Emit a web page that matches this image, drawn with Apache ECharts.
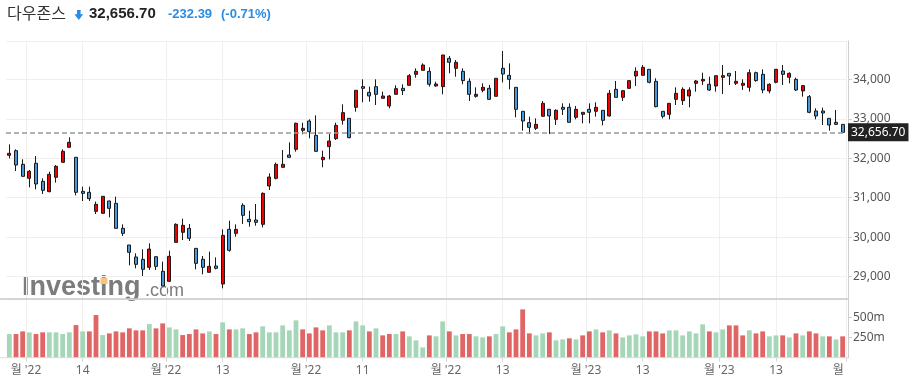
<!DOCTYPE html>
<html>
<head>
<meta charset="utf-8">
<script src="https://cdn.jsdelivr.net/npm/echarts@6/dist/echarts.min.js"></script>
<style>
  html, body { margin: 0; padding: 0; background: #fff; }
  #chart { width: 912px; height: 390px; }
</style>
</head>
<body>
<div id="chart"></div>
<script>
// daily Dow Jones, 2022-08-29 .. 2023-02-28
var dates = [
  '2022-08-29','2022-08-30','2022-08-31',
  '2022-09-01','2022-09-02','2022-09-06','2022-09-07','2022-09-08','2022-09-09','2022-09-12','2022-09-13','2022-09-14','2022-09-15','2022-09-16',
  '2022-09-19','2022-09-20','2022-09-21','2022-09-22','2022-09-23','2022-09-26','2022-09-27','2022-09-28','2022-09-29','2022-09-30',
  '2022-10-03','2022-10-04','2022-10-05','2022-10-06','2022-10-07','2022-10-10','2022-10-11','2022-10-12','2022-10-13','2022-10-14',
  '2022-10-17','2022-10-18','2022-10-19','2022-10-20','2022-10-21','2022-10-24','2022-10-25','2022-10-26','2022-10-27','2022-10-28','2022-10-31',
  '2022-11-01','2022-11-02','2022-11-03','2022-11-04','2022-11-07','2022-11-08','2022-11-09','2022-11-10','2022-11-11','2022-11-14',
  '2022-11-15','2022-11-16','2022-11-17','2022-11-18','2022-11-21','2022-11-22','2022-11-23','2022-11-25','2022-11-28','2022-11-29','2022-11-30',
  '2022-12-01','2022-12-02','2022-12-05','2022-12-06','2022-12-07','2022-12-08','2022-12-09','2022-12-12','2022-12-13','2022-12-14',
  '2022-12-15','2022-12-16','2022-12-19','2022-12-20','2022-12-21','2022-12-22','2022-12-23','2022-12-27','2022-12-28','2022-12-29','2022-12-30',
  '2023-01-03','2023-01-04','2023-01-05','2023-01-06','2023-01-09','2023-01-10','2023-01-11','2023-01-12','2023-01-13','2023-01-17',
  '2023-01-18','2023-01-19','2023-01-20','2023-01-23','2023-01-24','2023-01-25','2023-01-26','2023-01-27','2023-01-30','2023-01-31',
  '2023-02-01','2023-02-02','2023-02-03','2023-02-06','2023-02-07','2023-02-08','2023-02-09','2023-02-10','2023-02-13','2023-02-14',
  '2023-02-15','2023-02-16','2023-02-17','2023-02-21','2023-02-22','2023-02-23','2023-02-24','2023-02-27','2023-02-28'
];

var opens = [32074,32192,31846,31492,31872,31416,31154,31517,31897,32277, 32024,31162,31137,30656,30605,30917,30858,30225,29803,29499,
  29440,29237,29507,29136,28882,29870,30124,30225,29718,29440, 29110,29271,28815,30199,30098,30807,30453,30436,30326,31297,
  31491,31770,32082,32226,32707,32944,32581,31964,32294,32496, 32961,33011,33290,33814,33670,33814,33518,33324,33619,33771,
  33847,34126,34227,34202,33830,33814,34531,34278,34202,33949, 33569,33721,33771,33569,34278,34101,33797,33189,32902,32758,
  33062,33240,32986,33290,33290,33037,33113,33240,33189,33214, 33071,33746,33543,33771,34084,34101,34253,33949,33189,33113,
  33493,33459,33577,33898,33957,33873,33830,34050,34151,33898, 33847,33797,34168,34126,33704,33923,34210,34050,33999,33704,
  33560,33197,33197,33011,32910,32859];
var closes = [32125,31829,31542,31669,31348,31188,31593,31796,32176,32404, 31137,31112,30977,30833,31036,30732,30225,30098,29617,29313,
  29186,29701,29262,28764,29516,30326,30301,29972,29338,29237, 29262,29212,30048,29668,30199,30554,30394,30377,31111,31525,
  31846,31846,32023,32885,32758,32674,32175,32023,32437,32834, 33155,32522,33721,33771,33577,33619,33577,33577,33763,33712,
  34092,34202,34362,33873,33881,34616,34430,34430,33966,33619, 33619,33797,33493,34025,34134,33999,33240,32944,32783,32859,
  33392,33071,33214,33240,32910,33240,33164,33164,33290,32961, 33645,33543,33712,33966,34202,34303,33923,33307,33062,33391,
  33645,33746,33729,33957,33999,33729,34092,34092,34084,33949, 33898,34168,33966,33729,33873,34253,34126,34151,33729,33839,
  33163,33071,33146,32842,32859,32656.70];
var lows = [31998,31677,31542,31264,31213,31095,31137,31382,31897,32277, 31061,30917,30917,30588,30605,30504,30225,30031,29288,29212,
  29018,29170,29170,28764,28882,29870,29929,29904,29186,29060, 29110,29186,28705,29634,30014,30335,30267,30292,30250,31196,
  31466,31770,32023,32167,32606,32505,32175,31770,31973,32462, 32851,32505,33180,33417,33434,33349,33518,33265,33619,33602,
  33847,34041,34227,33814,33814,33619,34151,34067,33873,33450, 33535,33670,33476,33569,33923,33746,33037,32699,32614,32716,
  33062,32614,32842,33096,32910,32986,32885,32885,33054,32834, 33054,33543,33450,33771,33830,34101,33898,33290,33011,32986,
  33349,33349,33290,33687,33856,33704,33687,33628,33856,33856, 33729,33687,33940,33645,33645,33898,33856,33898,33704,33560,
  33138,32986,32842,32699,32842,32656.70];
var highs = [32353,32226,31973,31703,32057,31492,31661,31829,32226,32530, 32024,31280,31280,30901,31044,30926,31027,30326,29803,29592,
  29693,29845,29507,29381,29659,30352,30470,30335,29718,29524, 29634,29490,30200,30419,30326,30858,30672,30841,31137,31618,
  31888,32209,32403,32902,32902,32986,33087,32192,32614,32902, 33366,33011,33721,33999,33814,33999,33687,33602,33847,33873,
  34134,34278,34405,34303,33940,34616,34590,34489,34278,34025, 33797,33898,33856,34025,34717,34405,33797,33189,33054,33011,
  33450,33240,33240,33392,33392,33324,33164,33392,33417,33214, 33729,33957,33712,33966,34303,34362,34253,34025,33189,33391,
  33797,33797,33797,33982,34168,34067,34092,34362,34151,34210, 34000,34253,34193,34253,33898,34253,34362,34176,34041,33856,
  33602,33265,33282,33011,33222,32859];

// volume in millions, and direction vs previous close (1 up, -1 down)
var volumes = [296,296,329,317,296,317,317,317,296,317, 408,329,329,533,283,304,329,317,367,342,
  342,421,367,429,379,354,283,296,354,304, 329,296,442,354,354,367,296,317,392,317,
  317,404,342,467,354,304,379,342,404,317, 317,342,454,404,329,367,279,296,296,329,
  267,217,129,279,267,454,329,279,296,296, 267,254,267,296,392,317,354,604,304,279,
  304,317,217,229,242,229,279,329,354,317, 342,304,254,279,292,267,329,329,304,342,
  342,279,329,304,417,329,317,354,404,404, 279,342,304,329,267,279,279,254,304,279,
  329,304,267,267,229,267];
var volumeDir = [1,-1,-1,1,-1,-1,1,1,1,1, -1,1,-1,-1,1,-1,-1,-1,-1,-1,
  -1,1,-1,-1,1,1,-1,-1,-1,-1, 1,-1,1,-1,1,1,-1,-1,1,1,
  1,1,1,1,-1,-1,-1,-1,1,1, 1,-1,1,1,-1,1,-1,-1,1,-1,
  1,1,1,-1,1,1,-1,1,-1,-1, 1,1,-1,1,1,-1,-1,-1,-1,1,
  1,-1,1,1,-1,1,-1,-1,1,-1, 1,-1,1,1,1,1,-1,-1,-1,1,
  1,1,1,1,1,-1,1,1,-1,-1, -1,1,-1,-1,1,1,-1,1,-1,1,
  -1,-1,1,-1,1,-1];

// x tick labels: month starts sit on the boundary before the day, mid-month days on the candle
var monthTickIdx = [3, 24, 45, 66, 87, 107, 126];
var monthTickText = ["월 '22", "월 '22", "월 '22", "월 '22", "월 '23", "월 '23", "월"];
var dayTickIdx = [11, 32, 53, 74, 95, 115];
var dayTickText = ['14', '13', '11', '13', '13', '13'];

var instrumentName = '다우존스';
var lastClose = 32656.70;
var lastChange = -232.39;
var lastChangePct = -0.71;

var priceMin = 28435, priceMax = 34970;
var volumeMax = 734;

var chart = echarts.init(document.getElementById('chart'));

var FONT = "'Noto Sans', 'Noto Sans CJK KR', sans-serif";
var UP = '#f20000', DOWN = '#4698dc';
var VOL_UP = '#a6d6b8', VOL_DOWN = '#e06666';
var GRID_LINE = '#efefef';

var gridLeft = 6, gridRight = 66;
var priceTop = 41, priceHeight = 258;
var volTop = priceTop + priceHeight, volHeight = 58.7;
var axisX = 912 - gridRight + 2;

var candleData = dates.map(function (d, i) {
  return [opens[i], closes[i], lows[i], highs[i]];
});
var volumeData = volumes.map(function (v, i) {
  return { value: v, itemStyle: { color: volumeDir[i] > 0 ? VOL_UP : VOL_DOWN } };
});

var lastIdx = dates.length - 1;
var labelAt = {};
monthTickIdx.forEach(function (idx, k) {
  if (idx > lastIdx) labelAt[lastIdx] = '{e|' + monthTickText[k] + '}';
  else labelAt[idx] = '{m|' + monthTickText[k] + '}';
});
dayTickIdx.forEach(function (idx, k) {
  labelAt[idx] = '{d|' + dayTickText[k] + '}';
});

function isMonth(idx) { return monthTickIdx.indexOf(idx) >= 0; }
function isDay(idx) { return dayTickIdx.indexOf(idx) >= 0; }

var labelRich = {
  m: { fontFamily: FONT, fontSize: 12, color: '#666', padding: [0, 6.7, 0, 0] },
  d: { fontFamily: FONT, fontSize: 12, color: '#666' },
  e: { fontFamily: FONT, fontSize: 12, color: '#666', padding: [0, 9, 0, 0] }
};

function fmt2(v) {
  return v.toLocaleString('en-US', { minimumFractionDigits: 2, maximumFractionDigits: 2 });
}

var option = {
  animation: false,
  backgroundColor: '#fff',
  grid: [
    { left: gridLeft, right: gridRight, top: priceTop, height: priceHeight },
    { left: gridLeft, right: gridRight, top: volTop, height: volHeight }
  ],
  xAxis: [
    {
      type: 'category', gridIndex: 0, data: dates, position: 'bottom', boundaryGap: true,
      axisLine: { show: false }, axisTick: { show: false }, axisLabel: { show: false },
      splitLine: { show: true, interval: function (i) { return isMonth(i); }, lineStyle: { color: GRID_LINE, width: 1 } }
    },
    {
      type: 'category', gridIndex: 0, data: dates, position: 'bottom', boundaryGap: true,
      axisLine: { show: false }, axisTick: { show: false }, axisLabel: { show: false },
      splitLine: { show: true, alignWithLabel: true, interval: function (i) { return isDay(i); }, lineStyle: { color: GRID_LINE, width: 1 } }
    },
    {
      type: 'category', gridIndex: 1, data: dates, position: 'bottom', boundaryGap: true,
      axisLine: { show: false },
      axisTick: { show: true, length: 4, interval: function (i) { return isMonth(i); }, lineStyle: { color: '#d6d6d6' } },
      axisLabel: {
        show: true, margin: 7, fontFamily: FONT, fontSize: 12, color: '#666',
        interval: function (i) { return labelAt[i] !== undefined; },
        formatter: function (v, i) { return labelAt[i] || ''; },
        rich: labelRich
      },
      splitLine: { show: true, interval: function (i) { return isMonth(i); }, lineStyle: { color: GRID_LINE, width: 1 } }
    },
    {
      type: 'category', gridIndex: 1, data: dates, position: 'bottom', boundaryGap: true,
      axisLine: { show: false },
      axisTick: { show: true, length: 4, alignWithLabel: true, interval: function (i) { return isDay(i); }, lineStyle: { color: '#d6d6d6' } },
      axisLabel: { show: false },
      splitLine: { show: true, alignWithLabel: true, interval: function (i) { return isDay(i); }, lineStyle: { color: GRID_LINE, width: 1 } }
    }
  ],
  yAxis: [
    {
      type: 'value', gridIndex: 0, position: 'right', offset: 2,
      min: priceMin, max: priceMax,
      axisLine: { show: true, lineStyle: { color: '#cfcfcf' } },
      axisTick: { show: true, length: 4, lineStyle: { color: '#cfcfcf' } },
      axisLabel: {
        margin: 5, fontFamily: FONT, fontSize: 12, color: '#555',
        showMinLabel: false, showMaxLabel: false,
        formatter: function (v) { return v.toLocaleString('en-US'); }
      },
      splitLine: { show: true, lineStyle: { color: GRID_LINE, width: 1 } }
    },
    {
      type: 'value', gridIndex: 1, position: 'right', offset: 2,
      min: 0, max: volumeMax, interval: 250,
      axisLine: { show: true, lineStyle: { color: '#cfcfcf' } },
      axisTick: { show: true, length: 4, lineStyle: { color: '#cfcfcf' } },
      axisLabel: {
        margin: 5, fontFamily: FONT, fontSize: 12, color: '#555',
        showMinLabel: false, showMaxLabel: false,
        formatter: function (v) { return v + 'm'; }
      },
      splitLine: { show: false }
    }
  ],
  series: [
    {
      name: instrumentName,
      type: 'candlestick',
      xAxisIndex: 0, yAxisIndex: 0,
      data: candleData,
      barWidth: 3.8,
      itemStyle: {
        color: UP, color0: DOWN,
        borderColor: '#1a1a1a', borderColor0: '#1a1a1a', borderWidth: 1
      },
      emphasis: { disabled: true },
      markLine: {
        silent: true,
        symbol: ['none', 'none'],
        lineStyle: { color: '#9a9a9a', type: [5, 3], width: 1.6 },
        label: {
          show: true, position: 'end', distance: 2,
          formatter: function () { return fmt2(lastClose); },
          backgroundColor: '#222', color: '#fff',
          fontFamily: FONT, fontSize: 12, lineHeight: 14,
          padding: [2, 3, 2, 3]
        },
        data: [{ yAxis: lastClose }]
      },
      z: 3
    },
    {
      name: 'volume',
      type: 'bar',
      xAxisIndex: 2, yAxisIndex: 1,
      data: volumeData,
      barWidth: 4.8,
      emphasis: { disabled: true }
    }
  ],
  graphic: [
    // header
    { type: 'text', left: 7, top: 5, style: { text: instrumentName, font: "16px 'Noto Sans CJK KR', sans-serif", fill: '#333' } },
    { type: 'polygon', shape: { points: [[77, 10], [80.6, 10], [80.6, 14.2], [83.2, 14.2], [78.8, 20], [74.4, 14.2], [77, 14.2]] }, style: { fill: '#2b8de2' } },
    { type: 'text', left: 89, top: 6, style: { text: fmt2(lastClose), font: "bold 15px 'Liberation Sans', Arial, sans-serif", fill: '#222' } },
    { type: 'text', left: 168, top: 8, style: { text: fmt2(lastChange), font: "bold 13px 'Liberation Sans', Arial, sans-serif", fill: '#2b8de2' } },
    { type: 'text', left: 221, top: 8, style: { text: '(' + fmt2(lastChangePct) + '%)', font: "bold 13px 'Liberation Sans', Arial, sans-serif", fill: '#2b8de2' } },
    // watermark
    { type: 'text', z: -10, left: 22, top: 274, style: { text: 'Investing', font: "bold 27px 'Liberation Sans', Arial, sans-serif", fill: '#7c7c7c' } },
    { type: 'rect', z: -9, shape: { x: 100.5, y: 278, width: 7, height: 6 }, style: { fill: '#f7c47e' } },
    { type: 'text', z: -10, left: 145, top: 282, style: { text: '.com', font: "18px 'Liberation Sans', Arial, sans-serif", fill: '#7c7c7c' } },
    // pane separators
    { type: 'line', z: 5, shape: { x1: 0, y1: volTop, x2: axisX, y2: volTop }, style: { stroke: '#c8c8c8', lineWidth: 1.5 } },
    { type: 'line', z: 5, shape: { x1: 0, y1: volTop + volHeight, x2: axisX, y2: volTop + volHeight }, style: { stroke: '#dcdcdc', lineWidth: 1 } }
  ]
};

chart.setOption(option);
</script>
</body>
</html>
